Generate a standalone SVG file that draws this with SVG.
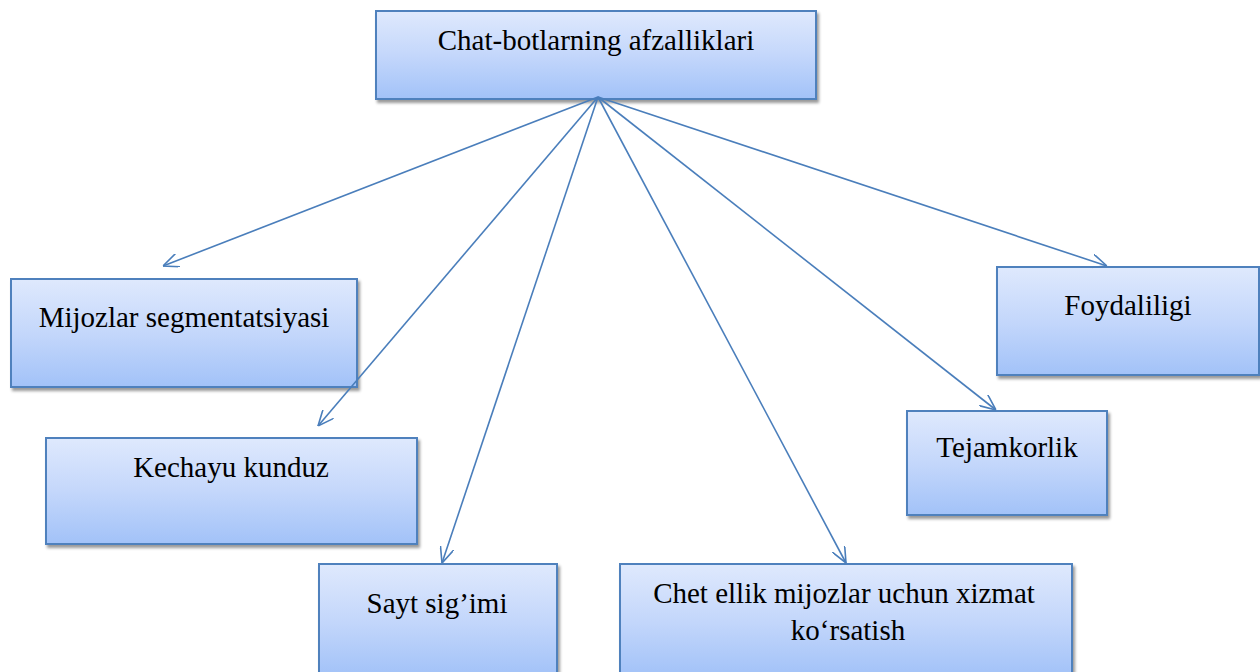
<svg xmlns="http://www.w3.org/2000/svg" width="1260" height="672" viewBox="0 0 1260 672">
  <defs>
    <linearGradient id="boxFill" x1="0" y1="0" x2="0" y2="1">
      <stop offset="0" stop-color="#dfe9fd"/>
      <stop offset="0.5" stop-color="#c4d7fb"/>
      <stop offset="1" stop-color="#a2c2f8"/>
    </linearGradient>
    <filter id="shadow" x="-10%" y="-10%" width="125%" height="130%">
      <feDropShadow dx="2" dy="3" stdDeviation="1.6" flood-color="#000" flood-opacity="0.4"/>
    </filter>
    <marker id="arrow" viewBox="0 0 16 14" refX="16" refY="7" markerWidth="16" markerHeight="14" markerUnits="userSpaceOnUse" orient="auto">
      <path d="M0,0 L16,7 L0,14" fill="none" stroke="#4a7ebb" stroke-width="1.6"/>
    </marker>
  </defs>
  <style>
    .box { fill: url(#boxFill); stroke: #4f81bd; stroke-width: 2; filter: url(#shadow); }
    .label { font-size: 29px; fill: #000; text-anchor: middle; }
    .link { fill: none; stroke: #4a7ebb; stroke-width: 1.6; marker-end: url(#arrow); }
  </style>
  <rect width="1260" height="672" fill="#ffffff"/>

  <g font-family="'Liberation Serif', 'Times New Roman', 'DejaVu Serif', serif">
  <g id="node-root">
    <rect class="box" x="376" y="11" width="440" height="88"/>
    <text class="label" x="596" y="50">Chat-botlarning afzalliklari</text>
  </g>

  <g id="node-segmentation">
    <rect class="box" x="11" y="279" width="346" height="108"/>
    <text class="label" x="184" y="327">Mijozlar segmentatsiyasi</text>
  </g>

  <g id="node-daynight">
    <rect class="box" x="46" y="438" width="371" height="106"/>
    <text class="label" x="231" y="477">Kechayu kunduz</text>
  </g>

  <g id="node-capacity">
    <rect class="box" x="319" y="564" width="238" height="112"/>
    <text class="label" x="437" y="613">Sayt sig’imi</text>
  </g>

  <g id="node-foreign">
    <rect class="box" x="620" y="564" width="452" height="112"/>
    <text class="label" x="844" y="603">Chet ellik mijozlar uchun xizmat</text>
    <text class="label" x="848" y="640">ko‘rsatish</text>
  </g>

  <g id="node-saving">
    <rect class="box" x="907" y="411" width="200" height="104"/>
    <text class="label" x="1007" y="457">Tejamkorlik</text>
  </g>

  <g id="node-usefulness">
    <rect class="box" x="997" y="267" width="262" height="108"/>
    <text class="label" x="1128" y="315">Foydaliligi</text>
  </g>
  </g>

  <g id="connectors">
    <line class="link" x1="598" y1="97" x2="163" y2="266"/>
    <line class="link" x1="598" y1="97" x2="318" y2="426"/>
    <line class="link" x1="598" y1="97" x2="442" y2="563"/>
    <line class="link" x1="598" y1="97" x2="846" y2="563"/>
    <line class="link" x1="598" y1="97" x2="996" y2="410"/>
    <line class="link" x1="598" y1="97" x2="1107" y2="266"/>
  </g>
</svg>
